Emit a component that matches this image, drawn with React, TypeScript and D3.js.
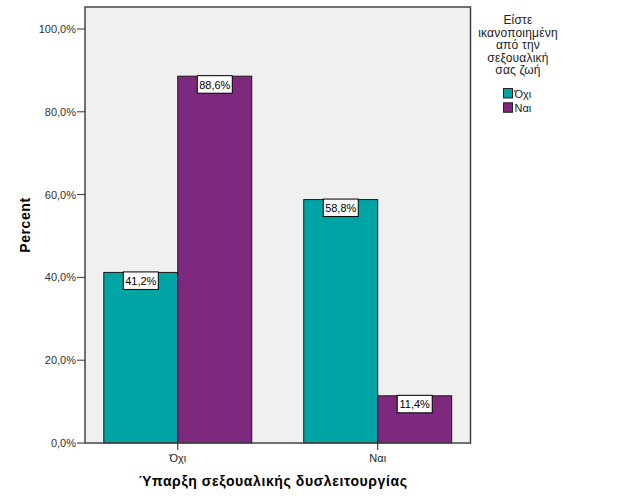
import React from "react";
import * as d3 from "d3";

const categories = ["Όχι", "Ναι"];
const seriesNames = ["Όχι", "Ναι"];
const seriesValues = [
  [41.2, 88.6],
  [58.8, 11.4],
];
const yTicks = [0, 20, 40, 60, 80, 100];
const colors = ["#00A4A4", "#7D2A7E"];
const legendTitle = ["Είστε", "ικανοποιημένη", "από την", "σεξουαλική", "σας ζωή"];
const xTitle = "Ύπαρξη σεξουαλικής δυσλειτουργίας";
const yTitle = "Percent";

const fmt = (v: number) => v.toFixed(1).replace(".", ",") + "%";

export default function App() {
  const W = 629, H = 504;
  const left = 85, right = 470.5, top = 7, bottom = 443;
  const y = d3.scaleLinear().domain([0, 100]).range([bottom, 29]);
  const x0 = d3
    .scaleBand<string>()
    .domain(categories)
    .range([left, right])
    .paddingInner(0.26)
    .paddingOuter(0.094);
  const x1 = d3
    .scaleBand<string>()
    .domain(seriesNames)
    .range([0, x0.bandwidth()]);
  const font = "Arial, 'Liberation Sans', sans-serif";
  return (
    <svg
      width={W}
      height={H}
      style={{ position: "absolute", left: 0, top: 0, background: "#fff" }}
      fontFamily={font}
    >
      <rect x={left} y={top} width={right - left} height={bottom - top} fill="#F0F0F0" />
      {categories.map((c, ci) =>
        seriesNames.map((s, si) => {
          const v = seriesValues[ci][si];
          const bx = (x0(c) as number) + (x1(s) as number);
          const by = y(v);
          const bw = x1.bandwidth();
          const cx = bx + bw / 2;
          return (
            <g key={c + s}>
              <rect
                x={bx}
                y={by}
                width={bw}
                height={bottom - by}
                fill={colors[si]}
                stroke="#1a1a1a"
                strokeWidth={1}
              />
              <rect x={cx - 17.5} y={by - 0.5} width={35} height={17.5} fill="#fff" stroke="#000" strokeWidth={1} />
              <text x={cx} y={by + 12.5} textAnchor="middle" fontSize={11} fill="#000">
                {fmt(v)}
              </text>
            </g>
          );
        })
      )}
      <rect x={left} y={top} width={right - left} height={bottom - top} fill="none" stroke="#444" strokeWidth={1.5} />
      {yTicks.map((t) => (
        <g key={t}>
          <line x1={77} x2={left} y1={y(t)} y2={y(t)} stroke="#333" strokeWidth={1} />
          <text x={76} y={y(t) + 4} textAnchor="end" fontSize={11} fill="#333">
            {fmt(t)}
          </text>
        </g>
      ))}
      {categories.map((c) => {
        const cx = (x0(c) as number) + x0.bandwidth() / 2;
        return (
          <g key={c}>
            <line x1={cx} x2={cx} y1={bottom} y2={bottom + 7} stroke="#222" strokeWidth={1} />
            <text x={cx} y={462} textAnchor="middle" fontSize={11} fill="#222">
              {c}
            </text>
          </g>
        );
      })}
      <text x={273} y={486} textAnchor="middle" fontSize={14} fontWeight="bold" fill="#000" letterSpacing={0.6}>
        {xTitle}
      </text>
      <text
        transform={`translate(30,225) rotate(-90)`}
        textAnchor="middle"
        fontSize={14}
        fontWeight="bold"
        fill="#000"
        letterSpacing={0.6}
      >
        {yTitle}
      </text>
      {legendTitle.map((l, i) => (
        <text key={i} x={518} y={24 + i * 12.6} textAnchor="middle" fontSize={12} fill="#222" letterSpacing={0.2}>
          {l}
        </text>
      ))}
      {seriesNames.map((s, i) => (
        <g key={s}>
          <rect x={503.5} y={88.5 + i * 14.3} width={9} height={9.5} fill={colors[i]} stroke="#222" strokeWidth={1} />
          <text x={514.5} y={97.5 + i * 14.3} fontSize={11} fill="#222">
            {s}
          </text>
        </g>
      ))}
    </svg>
  );
}
